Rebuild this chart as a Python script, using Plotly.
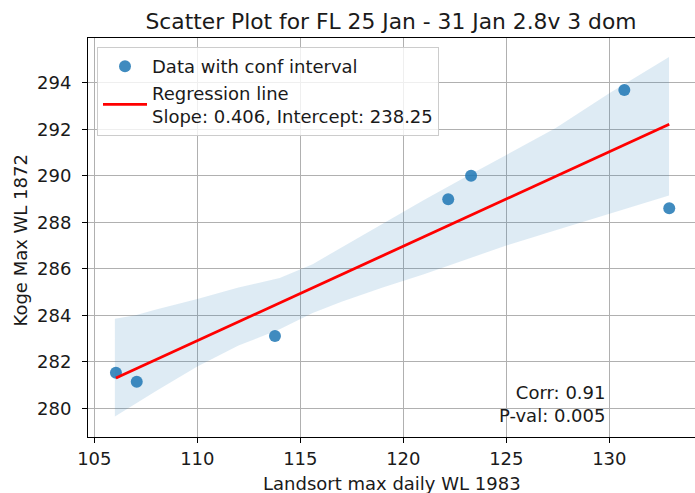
import plotly.graph_objects as go

# Observed daily maxima (Landsort vs Koge)
landsort_wl = [106.05, 107.06, 113.77, 122.18, 123.29, 130.73, 132.91]
koge_wl = [281.53, 281.14, 283.11, 288.99, 290.00, 293.68, 288.60]

# Fitted regression and summary stats
slope = 0.406
intercept = 238.25
corr = 0.91
p_val = 0.005

# Confidence band around the fit
band_x = [106.0, 107.0, 108.0, 110.0, 112.0, 114.0, 115.6, 117.0, 119.0,
          121.0, 123.0, 125.0, 127.4, 130.0, 132.9]
band_lower = [279.65, 280.2, 280.75, 281.8, 282.7, 283.4, 284.1, 284.58, 285.2,
              285.77, 286.39, 287.0, 287.66, 288.38, 289.15]
band_upper = [283.85, 284.0, 284.25, 284.7, 285.2, 285.6, 286.2, 286.92, 287.93,
              288.96, 289.93, 290.9, 292.05, 293.55, 295.1]

x_ticks = [105, 110, 115, 120, 125, 130]
y_ticks = [280, 282, 284, 286, 288, 290, 292, 294]

FONT = "DejaVu Sans"
TXT = "#1a1a1a"
FS = 18
x_fit = [min(landsort_wl), max(landsort_wl)]
y_fit = [intercept + slope * v for v in x_fit]

fig = go.Figure()

# shaded confidence interval
fig.add_trace(go.Scatter(
    x=band_x + band_x[::-1], y=band_upper + band_lower[::-1],
    fill="toself", fillcolor="rgba(31,119,180,0.15)",
    line=dict(width=0), mode="lines", hoverinfo="skip", showlegend=False,
))

fig.add_trace(go.Scatter(
    x=landsort_wl, y=koge_wl, mode="markers",
    marker=dict(color="rgba(31,119,180,0.85)", size=12, line=dict(width=0)),
    name="Data with conf interval",
))

fig.add_trace(go.Scatter(
    x=x_fit, y=y_fit, mode="lines",
    line=dict(color="red", width=2.8),
    name=f"Regression line<br>Slope: {slope:.3f}, Intercept: {intercept:.2f}",
))

axis_common = dict(
    showgrid=True, gridcolor="#b0b0b0", gridwidth=1,
    showline=True, linecolor="black", linewidth=1,
    ticks="outside", ticklen=5, tickcolor="black", tickwidth=1,
    tickfont=dict(family=FONT, size=FS, color=TXT),
    zeroline=False,
)

fig.update_xaxes(range=[104.694, 134.16], tickvals=x_ticks, mirror=True,
                 ticklabelstandoff=0, **axis_common)
fig.update_yaxes(range=[278.77, 295.92], tickvals=y_ticks,
                 ticklabelstandoff=7, **axis_common)

fig.add_annotation(
    text=f"Corr: {corr:.2f}<br>P-val: {p_val:.3f}",
    xref="paper", yref="paper", x=(607 - 88) / 607, y=(437 - 404.4) / 399,
    xanchor="right", yanchor="middle", align="right", showarrow=False,
    font=dict(family=FONT, size=FS, color=TXT),
)

# axis titles
fig.add_annotation(text="Landsort max daily WL 1983", xref="paper", yref="paper",
                   x=0.5, y=-(483 - 437) / 399, xanchor="center", yanchor="middle",
                   showarrow=False, font=dict(family=FONT, size=FS, color=TXT))
fig.add_annotation(text="Koge Max WL 1872", xref="paper", yref="paper",
                   x=-(88 - 19.5) / 607, y=1 - (241 - 38) / 399, xanchor="center",
                   yanchor="middle", textangle=-90, showarrow=False,
                   font=dict(family=FONT, size=FS, color=TXT))

fig.update_layout(
    width=695, height=493,
    margin=dict(l=88, r=0, t=38, b=56),
    paper_bgcolor="white", plot_bgcolor="white",
    title=dict(text="Scatter Plot for FL 25 Jan - 31 Jan 2.8v 3 dom",
               x=391 / 695, xanchor="center", y=1 - 21 / 493, yanchor="middle",
               font=dict(family=FONT, size=21.8, color=TXT)),
    legend=dict(x=(97 - 88) / 607, y=1 - (47 - 38) / 399, xanchor="left", yanchor="top",
                bgcolor="rgba(255,255,255,0.8)", bordercolor="#cccccc", borderwidth=1,
                font=dict(family=FONT, size=FS, color=TXT), itemwidth=44,
                tracegroupgap=0),
    showlegend=True,
)

fig.write_html("out.html")
